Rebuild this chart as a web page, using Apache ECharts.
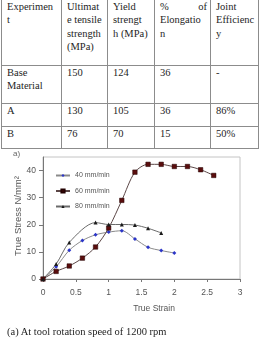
<!DOCTYPE html>
<html>
<head>
<meta charset="utf-8">
<script src="https://cdn.jsdelivr.net/npm/echarts@6/dist/echarts.min.js"></script>
<style>
html,body{margin:0;padding:0;background:#fff;width:259px;height:355px;overflow:hidden;}
#chart{position:absolute;left:0;top:0;width:259px;height:355px;}
#tbl{position:absolute;left:1px;top:-1px;border-collapse:collapse;table-layout:fixed;font-family:"Liberation Serif","Times New Roman",serif;font-size:10.5px;line-height:13.3px;color:#1e1e1e;z-index:2;background:#fff;}
#tbl td{border:1px solid #8c8c8c;vertical-align:top;padding:0 3px 0 5px;overflow:hidden;white-space:nowrap;}
.just{text-align:justify;text-align-last:justify;}
#cap{position:absolute;left:7px;top:326px;font-family:"Liberation Serif","Times New Roman",serif;font-size:10.5px;color:#1e1e1e;white-space:nowrap;}
</style>
</head>
<body>
<div id="chart"></div>
<table id="tbl"></table>
<div id="cap"></div>
<script>
// ---- table data ----
const tableHeaders = [
  ["Experimen","t"],
  ["Ultimat","e tensile","strength","(MPa)"],
  ["Yield","strengt","h (MPa)"],
  ["%          of","Elongatio","n"],
  ["Joint","Efficienc","y"]
];
const tableRows = [
  [["Base","Material"],["150"],["124"],["36"],["-"]],
  [["A"],["130"],["105"],["36"],["86%"]],
  [["B"],["76"],["70"],["15"],["50%"]]
];
const caption = "(a) At tool rotation speed of 1200 rpm";

// ---- chart data ----
const seriesNames = ["40 mm/min","60 mm/min","80 mm/min"];
const strain40 = [0,0.2,0.4,0.6,0.8,1.0,1.2,1.4,1.6,1.8,2.0];
const stress40 = [0,4.5,10.6,14.2,16.3,17.3,17.8,14.8,11.7,10.5,9.6];
const strain60 = [0,0.2,0.4,0.6,0.8,1.0,1.2,1.4,1.6,1.8,2.0,2.2,2.4,2.6];
const stress60 = [0,2.8,4.8,7.7,11.8,18.8,29,39.4,42.3,42.3,41.5,41.5,40.3,38.2];
const strain80 = [0,0.2,0.4,0.8,1.0,1.2,1.4,1.6,1.8];
const stress80 = [0,5.5,13.5,20.8,20.1,20.1,19.9,18.7,17.0];
const yTickValues = [0,10,20,30,40];
const xAxisTitle = "True Strain";
const yAxisTitle = "True Stress N/mm\u00b2";
const panelLabel = "a)";

// ---- build table ----
const colW = [60,46,47,56,48];
const rowH = [66,38,22.5,22.5];
const tbl = document.getElementById('tbl');
function cellHTML(lines, justifyFirst){
  return lines.map((l,i)=> (justifyFirst && i===0 && lines.length>1) ? '<div class="just">'+l.replace(/ +/,' ')+'</div>' : '<div>'+l+'</div>').join('');
}
let html = '<colgroup>' + colW.map(w=>'<col style="width:'+w+'px">').join('') + '</colgroup>';
html += '<tr style="height:'+rowH[0]+'px">' + tableHeaders.map((h,i)=>'<td>'+cellHTML(h, i===3)+'</td>').join('') + '</tr>';
tableRows.forEach((r,ri)=>{
  html += '<tr style="height:'+rowH[ri+1]+'px">' + r.map(c=>'<td>'+cellHTML(c,false)+'</td>').join('') + '</tr>';
});
tbl.innerHTML = html;
document.getElementById('cap').textContent = caption;

// ---- chart ----
const zip = (xs,ys)=>xs.map((x,i)=>[x,ys[i]]);
const chart = echarts.init(document.getElementById('chart'), null, {renderer:'canvas'});
const axisColor = '#777';
const labelStyle = {color:'#555', fontSize:8.5, fontFamily:'Liberation Sans, Arial, sans-serif'};
chart.setOption({
  backgroundColor:'#fff',
  animation:false,
  grid:{left:43,right:19,top:157,bottom:76,show:true,borderColor:'#c4c4c4',borderWidth:1,containLabel:false},
  xAxis:{type:'value',min:0,max:3,interval:0.5,
    axisLine:{show:true,lineStyle:{color:axisColor,width:1}},
    axisTick:{show:true,length:3,lineStyle:{color:axisColor}},
    splitLine:{show:false},
    axisLabel:Object.assign({margin:9},labelStyle)},
  yAxis:{type:'value',min:0,max:45,interval:10,
    axisLine:{show:true,lineStyle:{color:axisColor,width:1}},
    axisTick:{show:true,length:4,lineStyle:{color:axisColor},customValues:yTickValues},
    splitLine:{show:false},
    axisLabel:Object.assign({margin:7,customValues:yTickValues},labelStyle)},
  legend:{orient:'vertical',left:50,top:167,itemWidth:14,itemHeight:4,itemGap:8.5,
    data:seriesNames,
    textStyle:{color:'#555',fontSize:7,fontFamily:'Liberation Sans, Arial, sans-serif'}},
  graphic:[
    {type:'text',left:13,top:150,style:{text:panelLabel,fill:'#666',fontSize:8,fontFamily:'Liberation Sans, Arial, sans-serif'}},
    {type:'text',x:154,y:309,style:{text:xAxisTitle,fill:'#555',fontSize:8.5,fontFamily:'Liberation Sans, Arial, sans-serif',align:'center',verticalAlign:'middle'}},
    {type:'text',x:18,y:216,rotation:Math.PI/2,style:{text:yAxisTitle,fill:'#555',fontSize:9.5,fontFamily:'Liberation Sans, Arial, sans-serif',align:'center',verticalAlign:'middle'}}
  ],
  series:[
    {name:seriesNames[0],type:'line',smooth:0.3,data:zip(strain40,stress40),
      symbol:'diamond',symbolSize:4,
      lineStyle:{color:'#8a8a8a',width:1},
      itemStyle:{color:'#2b35c8'}},
    {name:seriesNames[1],type:'line',smooth:0.3,data:zip(strain60,stress60),
      symbol:'rect',symbolSize:4.5,
      lineStyle:{color:'#5b4646',width:1},
      itemStyle:{color:'#5a0d0d',borderColor:'#220000',borderWidth:0.5}},
    {name:seriesNames[2],type:'line',smooth:0.3,data:zip(strain80,stress80),
      symbol:'triangle',symbolSize:4,
      lineStyle:{color:'#6a6a6a',width:1},
      itemStyle:{color:'#1a1a1a'}}
  ]
});
</script>
</body>
</html>
